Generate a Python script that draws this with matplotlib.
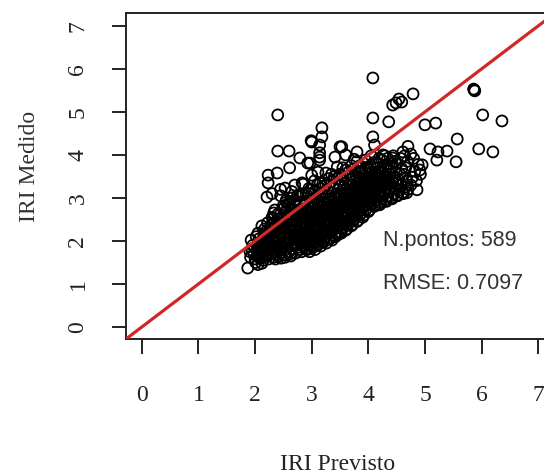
import matplotlib.pyplot as plt

plt.rcParams["font.family"] = ["Liberation Serif", "DejaVu Serif"]

# IRI previsto x IRI medido (n = 589)
x_prev = [
    1.92, 1.95, 1.98, 1.96, 1.93, 2.00, 1.99, 1.91,
    2.03, 2.05, 2.08, 2.02, 2.06, 2.09, 2.04, 2.07, 2.01, 2.10, 2.05,
    2.12, 2.15, 2.18, 2.13, 2.16, 2.19, 2.11, 2.17, 2.14, 2.20, 2.12, 2.18, 2.15,
    2.22, 2.25, 2.28, 2.23, 2.26, 2.29, 2.21, 2.27, 2.24, 2.30, 2.22, 2.28, 2.25, 2.21, 2.29, 2.24,
    2.32, 2.35, 2.38, 2.33, 2.36, 2.39, 2.31, 2.37, 2.34, 2.40, 2.32, 2.38, 2.35, 2.31, 2.39, 2.36, 2.33,
    2.42, 2.45, 2.48, 2.43, 2.46, 2.49, 2.41, 2.47, 2.44, 2.50, 2.42, 2.48, 2.45, 2.41, 2.49, 2.44, 2.46, 2.43,
    2.52, 2.55, 2.58, 2.53, 2.56, 2.59, 2.51, 2.57, 2.54, 2.60, 2.52, 2.58, 2.55, 2.51, 2.59, 2.53, 2.57, 2.55,
    2.62, 2.65, 2.68, 2.63, 2.66, 2.69, 2.61, 2.67, 2.64, 2.70, 2.62, 2.68, 2.65, 2.61, 2.69, 2.63, 2.67, 2.65, 2.62,
    2.72, 2.75, 2.78, 2.73, 2.76, 2.79, 2.71, 2.77, 2.74, 2.80, 2.72, 2.78, 2.75, 2.71, 2.79, 2.73, 2.77, 2.75, 2.72,
    2.82, 2.85, 2.88, 2.83, 2.86, 2.89, 2.81, 2.87, 2.84, 2.90, 2.82, 2.88, 2.85, 2.81, 2.89, 2.83, 2.87, 2.85, 2.82,
    2.92, 2.95, 2.98, 2.93, 2.96, 2.99, 2.91, 2.97, 2.94, 3.00, 2.92, 2.98, 2.95, 2.91, 2.99, 2.93, 2.97, 2.95, 2.92, 2.96,
    3.02, 3.05, 3.08, 3.03, 3.06, 3.09, 3.01, 3.07, 3.04, 3.10, 3.02, 3.08, 3.05, 3.01, 3.09, 3.03, 3.07, 3.05, 3.02, 3.06,
    3.12, 3.15, 3.18, 3.13, 3.16, 3.19, 3.11, 3.17, 3.14, 3.20, 3.12, 3.18, 3.15, 3.11, 3.19, 3.13, 3.17, 3.15, 3.12, 3.16,
    3.22, 3.25, 3.28, 3.23, 3.26, 3.29, 3.21, 3.27, 3.24, 3.30, 3.22, 3.28, 3.25, 3.21, 3.29, 3.23, 3.27, 3.25, 3.22, 3.26,
    3.32, 3.35, 3.38, 3.33, 3.36, 3.39, 3.31, 3.37, 3.34, 3.40, 3.32, 3.38, 3.35, 3.31, 3.39, 3.33, 3.37, 3.35, 3.32, 3.36,
    3.42, 3.45, 3.48, 3.43, 3.46, 3.49, 3.41, 3.47, 3.44, 3.50, 3.42, 3.48, 3.45, 3.41, 3.49, 3.43, 3.47, 3.45, 3.42, 3.46,
    3.52, 3.55, 3.58, 3.53, 3.56, 3.59, 3.51, 3.57, 3.54, 3.60, 3.52, 3.58, 3.55, 3.51, 3.59, 3.53, 3.57, 3.55, 3.52,
    3.62, 3.65, 3.68, 3.63, 3.66, 3.69, 3.61, 3.67, 3.64, 3.70, 3.62, 3.68, 3.65, 3.61, 3.69, 3.63, 3.67, 3.65, 3.62,
    3.72, 3.75, 3.78, 3.73, 3.76, 3.79, 3.71, 3.77, 3.74, 3.80, 3.72, 3.78, 3.75, 3.71, 3.79, 3.73, 3.77, 3.75, 3.72,
    3.82, 3.85, 3.88, 3.83, 3.86, 3.89, 3.81, 3.87, 3.84, 3.90, 3.82, 3.88, 3.85, 3.81, 3.89, 3.83, 3.87, 3.85, 3.82,
    3.92, 3.95, 3.98, 3.93, 3.96, 3.99, 3.91, 3.97, 3.94, 4.00, 3.92, 3.98, 3.95, 3.91, 3.99, 3.93, 3.97, 3.95, 3.92,
    4.02, 4.05, 4.08, 4.03, 4.06, 4.09, 4.01, 4.07, 4.04, 4.10, 4.02, 4.08, 4.05, 4.01, 4.09, 4.03, 4.07, 4.05, 4.02,
    4.12, 4.15, 4.18, 4.13, 4.16, 4.19, 4.11, 4.17, 4.14, 4.20, 4.12, 4.18, 4.15, 4.11, 4.19, 4.13, 4.17,
    4.22, 4.25, 4.28, 4.23, 4.26, 4.29, 4.21, 4.27, 4.24, 4.30, 4.22, 4.28, 4.25, 4.21, 4.29, 4.23,
    4.32, 4.35, 4.38, 4.33, 4.36, 4.39, 4.31, 4.37, 4.34, 4.40, 4.32, 4.38, 4.35, 4.31,
    4.42, 4.45, 4.48, 4.43, 4.46, 4.49, 4.41, 4.47, 4.44, 4.50, 4.42, 4.48,
    4.52, 4.55, 4.58, 4.53, 4.56, 4.59, 4.51, 4.57, 4.60, 4.52,
    4.62, 4.65, 4.68, 4.63, 4.66, 4.69, 4.64, 4.70,
    4.75, 4.78, 4.82, 4.85, 4.88, 4.80, 4.92,
    # faixa junto à reta
    2.30, 2.40, 2.50, 2.60, 2.70, 2.80, 2.90, 3.00, 3.10, 3.20,
    3.30, 3.40, 3.50, 3.60, 3.70, 3.80, 2.35, 2.55, 2.75, 2.95,
    3.15, 3.35, 3.55, 3.75, 2.45, 2.65, 2.85, 3.05, 3.25, 3.45,
    # pontos isolados
    4.08, 2.40, 4.54, 4.49, 4.59, 4.79, 4.43, 5.87, 5.88, 5.86,
    6.02, 6.36, 5.95, 6.20, 5.57, 5.55, 5.19, 5.00, 4.08, 4.36,
    3.18, 3.18, 2.99, 2.40, 2.60, 2.61, 2.39, 2.23, 2.23, 2.21,
    3.53, 5.09, 5.23, 5.39, 5.21, 4.91, 4.86, 4.68, 1.87, 3.14,
    2.97, 2.79, 2.53, 4.20, 2.05, 2.12, 3.00, 3.14, 3.14, 3.14,
    2.93, 3.41, 3.50, 2.83, 3.00, 3.11, 3.80, 4.08, 4.11, 4.95,
    4.61, 4.43, 4.26, 4.33, 4.70, 4.75, 2.45, 2.70, 2.30, 3.60,
]
y_med = [
    1.62, 1.78, 1.70, 1.90, 2.02, 1.58, 1.85, 1.75,
    1.65, 1.80, 1.95, 2.10, 1.72, 1.60, 1.88, 2.05, 1.50, 1.78, 2.18,
    1.62, 1.75, 1.90, 2.02, 2.15, 1.68, 1.85, 2.28, 1.55, 1.98, 2.35, 1.80, 2.08,
    1.65, 1.78, 1.92, 2.05, 2.18, 1.70, 1.88, 2.30, 1.58, 2.00, 2.42, 1.82, 2.12, 2.25, 2.38, 1.95,
    1.62, 1.75, 1.88, 2.00, 2.12, 2.25, 2.38, 1.68, 1.95, 2.05, 2.52, 2.18, 2.32, 1.82, 2.45, 1.58, 2.65,
    1.65, 1.78, 1.90, 2.02, 2.15, 2.28, 2.40, 2.55, 1.72, 1.98, 2.10, 2.35, 2.62, 1.85, 2.80, 2.22, 1.60, 2.48,
    1.68, 1.80, 1.92, 2.05, 2.18, 2.30, 2.42, 2.55, 2.68, 1.75, 1.95, 2.12, 2.38, 2.25, 2.85, 1.62, 2.02, 2.95,
    1.70, 1.82, 1.95, 2.08, 2.20, 2.32, 2.45, 2.58, 2.70, 1.88, 2.02, 2.15, 2.40, 2.28, 2.88, 1.65, 2.50, 3.00, 2.62,
    1.72, 1.85, 1.98, 2.10, 2.22, 2.35, 2.48, 2.60, 2.72, 1.80, 2.05, 2.18, 2.42, 2.30, 2.90, 1.92, 2.52, 3.05, 2.65,
    1.75, 1.88, 2.00, 2.12, 2.25, 2.38, 2.50, 2.62, 2.75, 1.82, 2.08, 2.20, 2.45, 2.32, 2.92, 1.95, 2.55, 3.08, 2.68,
    1.80, 1.92, 2.05, 2.15, 2.28, 2.40, 2.52, 2.65, 2.78, 1.88, 2.10, 2.22, 2.48, 2.35, 2.95, 2.00, 2.58, 3.10, 2.72, 1.75,
    1.85, 1.98, 2.10, 2.22, 2.35, 2.48, 2.60, 2.72, 2.85, 1.92, 2.15, 2.28, 2.55, 2.42, 3.00, 2.05, 2.65, 3.15, 2.78, 1.80,
    1.92, 2.05, 2.18, 2.30, 2.42, 2.55, 2.68, 2.80, 2.92, 2.00, 2.22, 2.35, 2.62, 2.48, 3.08, 2.12, 2.72, 3.22, 2.85, 1.88,
    1.98, 2.10, 2.22, 2.35, 2.48, 2.60, 2.72, 2.85, 2.98, 2.05, 2.28, 2.40, 2.68, 2.55, 3.15, 2.18, 2.78, 3.30, 2.90, 1.95,
    2.05, 2.18, 2.30, 2.42, 2.55, 2.68, 2.80, 2.92, 3.05, 2.12, 2.35, 2.48, 2.75, 2.62, 3.22, 2.25, 2.85, 3.38, 2.98, 2.02,
    2.10, 2.22, 2.35, 2.48, 2.60, 2.72, 2.85, 2.98, 3.10, 2.18, 2.40, 2.52, 2.80, 2.68, 3.28, 2.30, 2.90, 3.45, 3.02, 2.15,
    2.18, 2.30, 2.42, 2.55, 2.68, 2.80, 2.92, 3.05, 3.18, 2.25, 2.48, 2.60, 2.88, 2.75, 3.35, 2.38, 2.98, 3.52, 3.10,
    2.28, 2.40, 2.52, 2.65, 2.78, 2.90, 3.02, 3.15, 3.28, 2.35, 2.58, 2.70, 2.98, 2.85, 3.42, 2.48, 3.08, 3.60, 3.20,
    2.38, 2.50, 2.62, 2.75, 2.88, 3.00, 3.12, 3.25, 3.38, 2.45, 2.68, 2.80, 3.08, 2.95, 3.50, 2.58, 3.18, 3.68, 3.30,
    2.48, 2.60, 2.72, 2.85, 2.98, 3.10, 3.22, 3.35, 3.48, 2.55, 2.78, 2.90, 3.18, 3.05, 3.60, 2.68, 3.28, 3.75, 3.40,
    2.60, 2.72, 2.85, 2.98, 3.10, 3.22, 3.35, 3.48, 3.60, 2.68, 2.90, 3.02, 3.30, 3.15, 3.72, 2.80, 3.40, 3.88, 3.52,
    2.72, 2.85, 2.98, 3.10, 3.22, 3.35, 3.48, 3.60, 3.72, 2.80, 3.02, 3.15, 3.42, 3.28, 3.82, 2.92, 3.52, 3.98, 3.65,
    2.82, 2.95, 3.08, 3.20, 3.32, 3.45, 3.58, 3.70, 3.82, 2.90, 3.12, 3.25, 3.52, 3.38, 3.92, 3.02, 3.62,
    2.88, 3.00, 3.12, 3.25, 3.38, 3.50, 3.62, 3.75, 3.88, 2.95, 3.18, 3.30, 3.58, 3.45, 3.98, 3.08,
    2.92, 3.05, 3.18, 3.30, 3.42, 3.55, 3.68, 3.80, 3.92, 3.00, 3.22, 3.35, 3.62, 3.48,
    2.98, 3.10, 3.22, 3.35, 3.48, 3.60, 3.72, 3.85, 3.98, 3.05, 3.28, 3.40,
    3.05, 3.18, 3.30, 3.42, 3.55, 3.68, 3.80, 3.92, 3.12, 3.35,
    3.10, 3.25, 3.40, 3.55, 3.70, 3.85, 3.98, 3.20,
    3.30, 3.48, 3.62, 3.40, 3.78, 3.92, 3.55,
    # faixa junto à reta
    2.55, 2.62, 2.75, 2.85, 2.95, 3.05, 3.10, 3.20, 3.30, 3.35,
    3.45, 3.50, 3.55, 3.65, 3.75, 3.85, 2.72, 2.90, 3.05, 3.22,
    3.35, 3.55, 3.70, 3.90, 3.05, 3.15, 3.32, 3.40, 3.58, 3.72,
    # pontos isolados
    5.79, 4.93, 5.30, 5.21, 5.23, 5.42, 5.16, 5.51, 5.49, 5.53,
    4.93, 4.79, 4.14, 4.07, 4.37, 3.84, 4.74, 4.70, 4.86, 4.77,
    4.63, 4.42, 4.33, 4.09, 4.09, 3.70, 3.58, 3.53, 3.35, 3.02,
    4.19, 4.14, 4.07, 4.09, 3.88, 3.65, 3.19, 3.12, 1.37, 3.95,
    3.81, 3.93, 3.23, 2.84, 1.45, 1.48, 4.30, 4.23, 4.05, 3.88,
    3.81, 3.95, 4.19, 3.35, 3.53, 3.60, 4.07, 4.42, 4.23, 3.77,
    4.07, 3.93, 4.00, 3.77, 4.20, 4.02, 3.20, 3.30, 3.10, 4.00,
]

n_pontos = 589
rmse = 0.7097

fig = plt.figure(figsize=(5.44, 4.75), dpi=100)
ax = fig.add_axes([0.2316, 0.2863, 0.7978, 0.6863])

ax.scatter(x_prev, y_med, s=62, facecolors="none", edgecolors="black",
           linewidths=1.3, zorder=2)
ax.axline((0, 0), slope=1, color="#d02828", lw=2.3, zorder=3)

ax.set_xlim(-0.28, 7.385)
ax.set_ylim(-0.28, 7.30)
ax.set_xticks(range(8))
ax.set_yticks(range(8))

for s in ax.spines.values():
    s.set_linewidth(1.4)
    s.set_color("#222222")
ax.tick_params(axis="x", length=11, width=1.4, pad=22, labelsize=17,
               colors="#222222")
ax.tick_params(axis="y", length=10, width=1.4, pad=17, labelsize=17,
               labelrotation=90, colors="#222222")
for lab in ax.get_yticklabels():
    lab.set_verticalalignment("center")

ax.set_xlabel("IRI Previsto", fontsize=17, color="#222222")
ax.set_ylabel("IRI Medido", fontsize=17, color="#333333")
ax.xaxis.set_label_coords(0.488, -0.354)
ax.yaxis.set_label_coords(-0.197, 0.528)

ax.text(4.26, 2.0, f"N.pontos: {n_pontos}", fontfamily="Liberation Sans",
        fontsize=15.5, color="#333333", va="center", ha="left")
ax.text(4.26, 1.0, f"RMSE: {rmse}", fontfamily="Liberation Sans",
        fontsize=15.5, color="#333333", va="center", ha="left")

fig.savefig("out.png", dpi=100)
